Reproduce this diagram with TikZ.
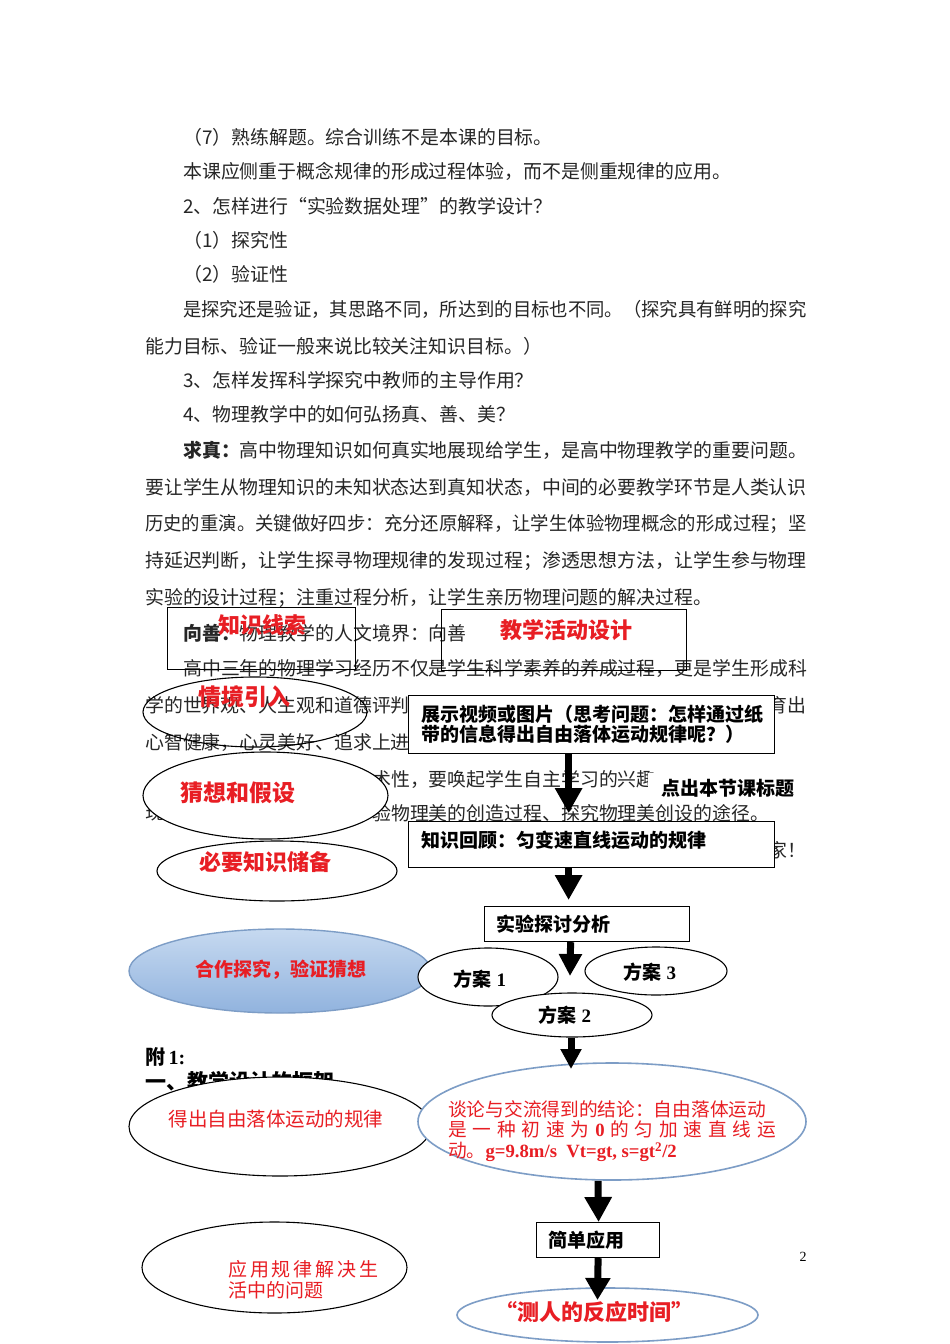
\documentclass[tikz,border=0pt]{standalone}
\usepackage{fontspec}
\setmainfont{Liberation Serif}
\newfontfamily\cjk{Noto Sans CJK SC}
\usetikzlibrary{arrows.meta,shapes.geometric}
\definecolor{myred}{RGB}{232,30,36}
\definecolor{myblue}{RGB}{125,157,198}
\definecolor{lbtop}{RGB}{198,217,240}
\definecolor{lbbot}{RGB}{145,179,222}
\begin{document}
\begin{tikzpicture}[x=1pt,y=-1pt,
  body/.style={anchor=west,inner sep=0,font=\cjk\fontsize{18.9}{20}\selectfont,text=black!85},
  boxs/.style={draw=black,line width=1.2pt,inner sep=0,anchor=north west},
  ell/.style={ellipse,draw=black,line width=1.1pt,inner sep=0},
  bell/.style={ellipse,draw=myblue,line width=1.6pt,inner sep=0},
  redbig/.style={inner sep=0,text=myred,font=\cjk\bfseries\fontsize{22}{24}\selectfont},
  redmid/.style={inner sep=0,text=myred,font=\cjk\bfseries\fontsize{19}{20}\selectfont},
  blk/.style={inner sep=0,text=black,font=\cjk\bfseries\fontsize{19}{20}\selectfont},
  blkser/.style={inner sep=0,text=black,font=\bfseries\fontsize{19}{20}\selectfont},
  bigarrow/.style={line width=7pt,-{Triangle[width=26pt,length=25pt]}}
]
\useasboundingbox (0,0) rectangle (950,1344);
\fill[white] (0,0) rectangle (950,1344);

% ---------------- body text ----------------
\node[body] (t1) at (183,137) {（7）熟练解题。综合训练不是本课的目标。};
\node[body] (t2) at (183,171) {本课应侧重于概念规律的形成过程体验，而不是侧重规律的应用。};
\node[body] (t3) at (183,206) {2、怎样进行“实验数据处理”的教学设计？};
\node[body] (t4) at (183,240) {（1）探究性};
\node[body] (t5) at (183,274) {（2）验证性};
\node[body] (t6) at (183,309) {\scalebox{0.97}[1]{是探究还是验证，其思路不同，所达到的目标也不同。（探究具有鲜明的探究}};
\node[body] (t7) at (145,346) {能力目标、验证一般来说比较关注知识目标。）};
\node[body] (t8) at (183,380) {3、怎样发挥科学探究中教师的主导作用？};
\node[body] (t9) at (183,414) {4、物理教学中的如何弘扬真、善、美？};
\node[body] (t10) at (183,450) {{\bfseries 求真：}高中物理知识如何真实地展现给学生，是高中物理教学的重要问题。};
\node[body] (t11) at (145,487) {要让学生从物理知识的未知状态达到真知状态，中间的必要教学环节是人类认识};
\node[body] (t12) at (145,524) {\scalebox{0.972}[1]{历史的重演。关键做好四步：充分还原解释，让学生体验物理概念的形成过程；坚}};
\node[body] (t13) at (145,561) {持延迟判断，让学生探寻物理规律的发现过程；渗透思想方法，让学生参与物理};
\node[body] (t14) at (145,598) {实验的设计过程；注重过程分析，让学生亲历物理问题的解决过程。};
\node[body] (t15) at (183,633) {{\bfseries 向善：}物理教学的人文境界：向善};
\node[body] (t16) at (183,668) {高中三年的物理学习经历不仅是学生科学素养的养成过程，更是学生形成科};
\node[body] (t17) at (145,705) {学的世界观、人生观和道德评判};
\node[body] (t17b) at (768,705) {育出};
\node[body] (t18) at (145,742) {心智健康，心灵美好、追求上进};
\node[body] (t19) at (372,779) {术性，要唤起学生自主学习的兴趣};
\node[body] (t20) at (145,813) {现};
\node[body] (t20b) at (372,813) {验物理美的创造过程、探究物理美创设的途径。};
\node[body] (t21) at (768,850) {家！};

% ---------------- upper diagram ----------------
\node[boxs,minimum width=188,minimum height=62] (A) at (167,607) {};
\node[redbig] (Atx) at (262,625) {知识线索};
\node[boxs,minimum width=245,minimum height=61] (B) at (441,609) {};
\node[redbig] (Btx) at (566,630) {教学活动设计};
\node[ell,minimum width=224,minimum height=70] (C) at (255,712) {};
\node[redbig,font=\cjk\bfseries\fontsize{23}{24}\selectfont] (Ctx) at (244,697) {情境引入};

\node[boxs,fill=white,minimum width=366,minimum height=58] (D) at (408,695) {};
\node[blk,anchor=west,align=left] (Dtx) at (421,724) {展示视频或图片（思考问题：怎样通过纸\\带的信息得出自由落体运动规律呢？）};

\node[blk,fill=white,minimum width=160,minimum height=30] (lab) at (728,788) {点出本节课标题};

\node[ell,fill=white,minimum width=245,minimum height=87] (F) at (265.5,795.5) {};
\node[redbig,font=\cjk\bfseries\fontsize{23}{24}\selectfont] (Ftx) at (238,793) {猜想和假设};
\node[ell,fill=white,minimum width=240,minimum height=60] (G) at (277,871) {};
\node[redbig] (Gtx) at (265,862) {必要知识储备};

\node[boxs,fill=white,minimum width=366,minimum height=46] (H) at (408,821) {};
\node[blk,anchor=west] (Htx) at (421,840) {知识回顾：匀变速直线运动的规律};

\node[boxs,fill=white,minimum width=205,minimum height=35] (I) at (484,906) {};
\node[blk,anchor=west] (Itx) at (496,924) {实验探讨分析};

\draw[bigarrow] ([xshift=-23pt]D.south) -- ([xshift=-23pt,yshift=8pt]H.north);
\draw[bigarrow] ([xshift=-23pt]H.south) -- ([xshift=-18.5pt,yshift=6pt]I.north);

\coordinate (Iend) at (570,976);
\draw[line width=7pt,-{Triangle[width=22pt,length=22pt]}] ([xshift=-16.5pt]I.south) -- (Iend);

% ---------------- middle ----------------
\node[ellipse,draw=myblue,line width=1.4pt,inner sep=0,top color=lbtop,bottom color=lbbot,minimum width=302,minimum height=84] (J) at (280,971) {};
\node[redmid] (Jtx) at (281,970) {合作探究，验证猜想};
\node[ell,fill=white,minimum width=140,minimum height=58] (K) at (488,977) {};
\node[blkser] (Ktx) at (480,979) {{\cjk 方案} 1};
\node[ell,fill=white,minimum width=142,minimum height=48] (L) at (656,971) {};
\node[blkser] (Ltx) at (650,972) {{\cjk 方案} 3};
\node[ell,fill=white,minimum width=160,minimum height=44] (M) at (572,1015) {};
\node[blkser] (Mtx) at (565,1015) {{\cjk 方案} 2};

\node[blkser,anchor=west,font=\bfseries\fontsize{20}{22}\selectfont] (fu) at (145,1057) {{\cjk 附}\,1:};
\node[blk,anchor=west,font=\cjk\bfseries\fontsize{21}{22}\selectfont] (yi) at (145,1081) {一、教学设计的框架};

\node[ell,fill=white,minimum width=302,minimum height=99] (O) at (280,1126.5) {};
\node[redmid,font=\cjk\fontsize{19.5}{20}\selectfont] (Otx) at (276,1119) {得出自由落体运动的规律};

\node[bell,fill=white,minimum width=388,minimum height=117] (N) at (612,1121.5) {};
\node[redmid,anchor=west,align=left,font=\cjk\fontsize{18.7}{20.5}\selectfont] (Ntx) at (448,1131)
  {谈论与交流得到的结论：自由落体运动\\
   \makebox[328pt][s]{是 一 种 初 速 为 {\rmfamily\bfseries 0} 的 匀 加 速 直 线 运}\\
   动。{\rmfamily\bfseries g=9.8m/s\ \ Vt=gt, s=gt\textsuperscript{2}/2}};
\coordinate (Nend) at (571,1069);
\draw[line width=7pt,-{Triangle[width=20pt,length=20pt]}] ([xshift=-1pt]M.south) -- (Nend);

% ---------------- lower ----------------
\node[boxs,fill=white,minimum width=123,minimum height=35] (P) at (536,1222) {};
\node[blk,anchor=west] (Ptx) at (548,1240) {简单应用};
\draw[bigarrow] ([xshift=-14pt]N.south) -- ([xshift=0.5pt]P.north);

\node[bell,fill=white,minimum width=301,minimum height=54] (Q) at (607.5,1315) {};
\coordinate (Qend) at (597.5,1300);
\draw[line width=7pt,-{Triangle[width=24pt,length=22pt]}] (P.south) -- (Qend);
\node[redbig] (Qtx) at (594,1312) {“测人的反应时间”};

\node[ell,fill=white,minimum width=265,minimum height=91] (R) at (274.5,1267.5) {};
\node[redmid,anchor=west,align=left,font=\cjk\fontsize{19}{21}\selectfont] (Rtx) at (228,1279.5)
  {\makebox[147pt][s]{应 用 规 律 解 决 生}\\活中的问题};

\node[inner sep=0,font=\fontsize{14}{16}\selectfont] (pg) at (803,1257) {2};
\end{tikzpicture}
\end{document}
